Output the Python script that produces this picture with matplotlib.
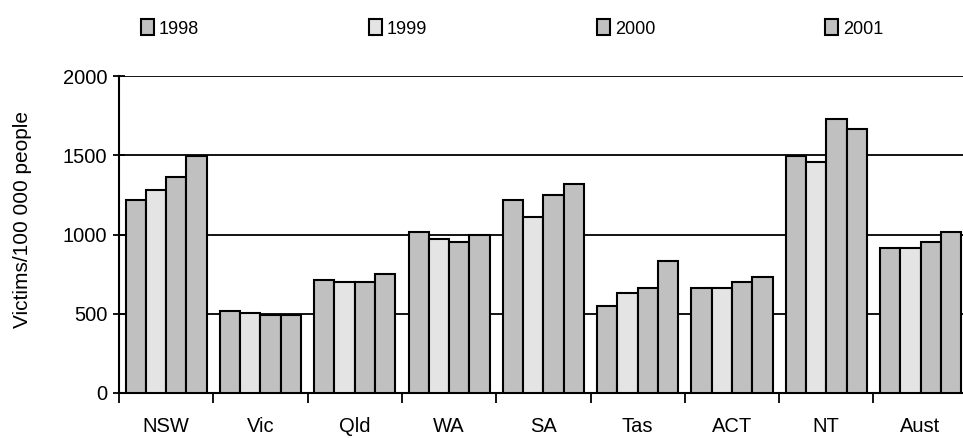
import numpy as np
import matplotlib.pyplot as plt

plt.rcParams['font.family'] = ['Liberation Sans', 'DejaVu Sans']

states = ['NSW', 'Vic', 'Qld', 'WA', 'SA', 'Tas', 'ACT', 'NT', 'Aust']
years = ['1998', '1999', '2000', '2001']
v1998 = [1215, 520, 715, 1015, 1220, 550, 665, 1495, 915]
v1999 = [1280, 505, 700, 970, 1110, 630, 665, 1460, 915]
v2000 = [1365, 490, 700, 950, 1250, 660, 700, 1730, 950]
v2001 = [1495, 490, 750, 1000, 1320, 830, 735, 1665, 1015]
colors = ['#c0c0c0', '#e4e4e4', '#c0c0c0', '#c0c0c0']

fig = plt.figure(figsize=(9.63, 4.38), dpi=100)
ax = fig.add_axes([119 / 963, 45 / 438, 844 / 963, 317 / 438])

x = np.arange(len(states))
w = 0.215
series = [v1998, v1999, v2000, v2001]
bars = []
for i, vals in enumerate(series):
    b = ax.bar(x + (i - 1.5) * w, vals, w, color=colors[i], edgecolor='black',
               linewidth=1.5, label=years[i], zorder=3)
    bars.append(b)

ax.set_ylim(0, 2000)
ax.set_xlim(-0.5, 8.45)
ax.set_yticks([0, 500, 1000, 1500, 2000])
ax.yaxis.grid(True, color='black', linewidth=1.3, zorder=0)
ax.set_axisbelow(True)

ax.set_xticks(x)
ax.set_xticklabels(states)
ax.set_xticks(np.arange(-0.5, 8.5, 1.0), minor=True)
ax.tick_params(axis='x', which='major', length=0, pad=17, labelsize=14.5)
ax.tick_params(axis='x', which='minor', length=7, width=1.3, direction='out')
ax.tick_params(axis='y', length=9, width=1.3, direction='inout', labelsize=14.5, pad=4)

for s in ['top', 'right']:
    ax.spines[s].set_visible(False)
for s in ['left', 'bottom']:
    ax.spines[s].set_linewidth(1.5)

ax.set_ylabel('Victims/100 000 people', fontsize=15)
ax.yaxis.set_label_coords(-0.103, 0.546)

fig.legend(handles=bars, labels=years, loc='center', bbox_to_anchor=(0.532, 0.935),
           ncol=4, frameon=False, fontsize=13, handlelength=0.7, handleheight=1.0,
           handletextpad=0.3, columnspacing=9.4)

fig.savefig('out.png', dpi=100)
